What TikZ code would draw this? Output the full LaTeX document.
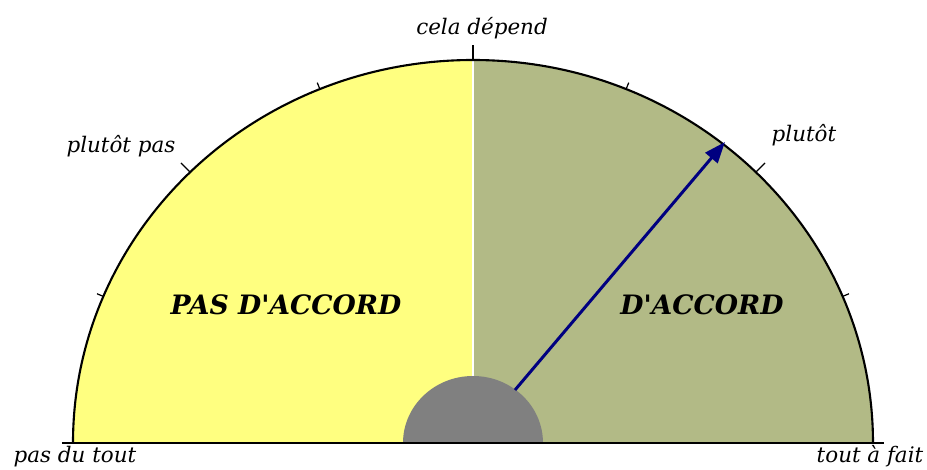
\documentclass[tikz,border=0pt]{standalone}
\usepackage{fontspec}
\setmainfont{DejaVu Serif}
\usetikzlibrary{arrows.meta}
\definecolor{disagree}{RGB}{255,255,128}
\definecolor{agree}{RGB}{178,186,134}
\definecolor{needle}{RGB}{0,0,128}
\definecolor{hub}{RGB}{128,128,128}

\begin{document}
\begin{tikzpicture}[x=0.02cm, y=0.02cm,
  rim/.style={line width=1.2pt, black},
  tickln/.style={line width=0.7pt, black},
  lbl/.style={anchor=base, inner sep=0pt,
              font=\fontsize{12.2}{14}\selectfont\itshape},
  big/.style={anchor=base, inner sep=0pt,
              font=\fontsize{15.2}{17}\selectfont\bfseries\itshape},
  arr/.style={-{Triangle[length=12pt, width=9pt]}, line width=1.7pt, needle}
]
\useasboundingbox (-473,-27) rectangle (454,443);

%% ---- Centre and needle ends ----
\coordinate (c)    at (0,0);
\coordinate (top)  at (0,383);
\coordinate (foot) at (42,53);
\coordinate (tip)  at (252,301);

%% ---- Two halves of the dial ----
\fill[disagree] (c) -- (top) arc[start angle=90, end angle=180,
  x radius=400, y radius=383] -- cycle;
\fill[agree] (c) -- (top) arc[start angle=90, end angle=0,
  x radius=400, y radius=383] -- cycle;
\draw[white, line width=0.6pt] (c) -- (top);

%% ---- Hub ----
\fill[hub] (70,0) arc[start angle=0, end angle=180,
  x radius=70, y radius=67] -- cycle;

%% ---- Rim, base line, ticks ----
\draw[rim] (400,0) arc[start angle=0, end angle=180,
  x radius=400, y radius=383];
\draw[rim] (-411,0) -- (411,0);
\foreach \a/\l in {22.5/7, 45/13, 67.5/7, 90/15, 112.5/7, 135/13, 157.5/7}
  \draw[tickln] ({400*cos(\a)},{383*sin(\a)})
    -- ({(400+\l)*cos(\a)},{(383+\l)*sin(\a)});

%% ---- Scale labels ----
\node[lbl] (l0) at (-398,-20) {pas du tout};
\node[lbl] (l1) at (-352,290) {plutôt pas};
\node[lbl] (l2) at (9,408)    {cela dépend};
\node[lbl] (l3) at (331,301)  {plutôt};
\node[lbl] (l4) at (397,-20)  {tout à fait};

%% ---- Zone labels ----
\node[big] (no)  at (-187,128) {PAS D\textquotesingle ACCORD};
\node[big] (yes) at (229,128)  {D\textquotesingle ACCORD};

%% ---- Needle ----
\draw[arr] (foot) -- (tip);

\end{tikzpicture}
\end{document}
